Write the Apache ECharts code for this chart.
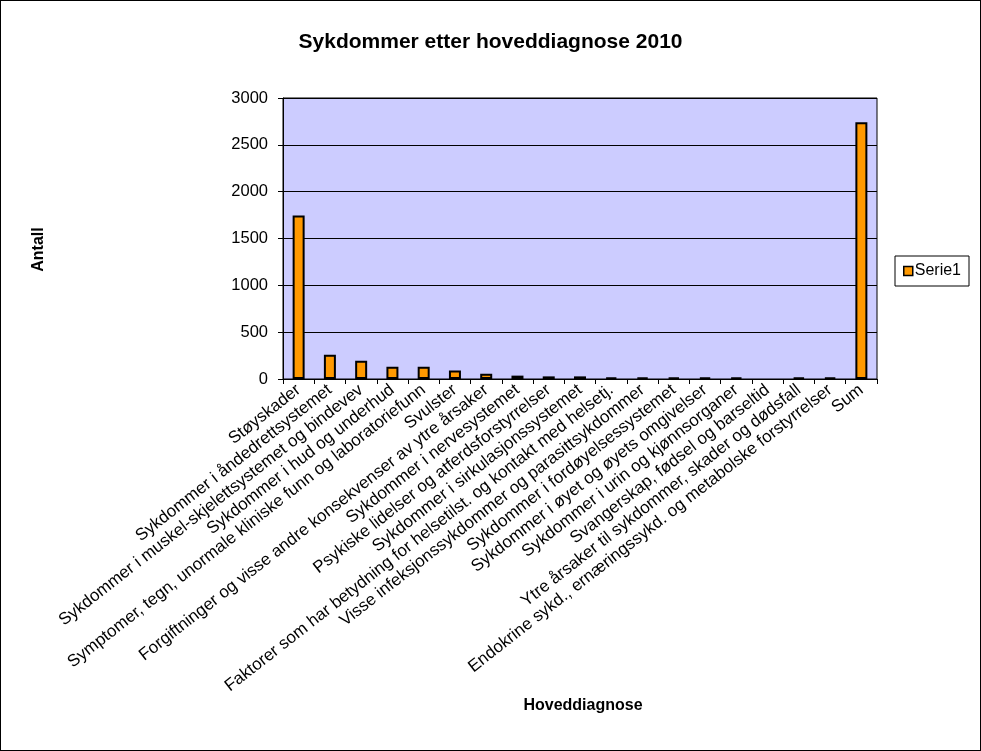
<!DOCTYPE html>
<html>
<head>
<meta charset="utf-8">
<script src="https://cdn.jsdelivr.net/npm/echarts@6/dist/echarts.min.js"></script>
<style>
    html, body { margin: 0; padding: 0; background: #fff; }
    #chart {
        width: 981px;
        height: 751px;
        box-sizing: border-box;
        border: 1px solid #000;
    }
</style>
</head>
<body>
<div id="chart"></div>
<script>
    const categories = [
        'Støyskader',
        'Sykdommer i åndedrettsystemet',
        'Sykdommer i muskel-skjelettsystemet og bindevev',
        'Sykdommer i hud og underhud',
        'Symptomer, tegn, unormale kliniske funn og laboratoriefunn',
        'Svulster',
        'Forgiftninger og visse andre konsekvenser av ytre årsaker',
        'Sykdommer i nervesystemet',
        'Psykiske lidelser og atferdsforstyrrelser',
        'Sykdommer i sirkulasjonssystemet',
        'Faktorer som har betydning for helsetilst. og kontakt med helsetj.',
        'Visse infeksjonssykdommer og parasittsykdommer',
        'Sykdommer i fordøyelsessystemet',
        'Sykdommer i øyet og øyets omgivelser',
        'Sykdommer i urin og kjønnsorganer',
        'Svangerskap, fødsel og barseltid',
        'Ytre årsaker til sykdommer, skader og dødsfall',
        'Endokrine sykd., ernæringssykd. og metabolske forstyrrelser',
        'Sum'
    ];
    const serie1 = [1745, 258, 195, 130, 130, 90, 57, 36, 28, 28, 18, 17, 17, 17, 17, null, 16, 16, 2740];
    const yTicks = { min: 0, max: 3000, interval: 500 };

    const font = 'Arial, "Liberation Sans", sans-serif';
    const chart = echarts.init(document.getElementById('chart'));

    chart.setOption({
        animation: false,
        title: {
            text: 'Sykdommer etter hoveddiagnose 2010',
            left: 'center',
            top: 26,
            textStyle: { fontFamily: font, fontSize: 21, fontWeight: 'bold', color: '#000' }
        },
        grid: {
            left: 282,
            right: 103,
            top: 97,
            bottom: 371,
            containLabel: false,
            show: true,
            backgroundColor: '#CCCCFF',
            borderColor: '#000',
            borderWidth: 1
        },
        legend: {
            data: ['Serie1'],
            right: 11,
            top: 255,
            orient: 'vertical',
            padding: [7, 8, 7, 8],
            borderColor: '#000',
            borderWidth: 1,
            itemWidth: 9,
            itemHeight: 9,
            itemGap: 0,
            icon: 'rect',
            itemStyle: { borderColor: '#000', borderWidth: 1.5 },
            textStyle: { fontFamily: font, fontSize: 16, color: '#000', padding: [0, 0, 0, -3] }
        },
        xAxis: {
            type: 'category',
            data: categories,
            name: 'Hoveddiagnose',
            nameLocation: 'middle',
            nameGap: 317,
            nameTextStyle: { fontFamily: font, fontSize: 16, fontWeight: 'bold', color: '#000', padding: [0, 0, 0, 6] },
            axisLine: { lineStyle: { color: '#000', width: 1 } },
            axisTick: { show: true, alignWithLabel: false, length: 5, lineStyle: { color: '#000' } },
            axisLabel: {
                interval: 0,
                rotate: 38,
                margin: 9,
                fontFamily: font,
                fontSize: 17,
                color: '#000'
            }
        },
        yAxis: {
            type: 'value',
            min: yTicks.min,
            max: yTicks.max,
            interval: yTicks.interval,
            name: 'Antall',
            nameLocation: 'middle',
            nameRotate: 90,
            nameGap: 236,
            nameTextStyle: { fontFamily: font, fontSize: 16, fontWeight: 'bold', color: '#000', padding: [0, 22, 0, 0] },
            axisLine: { show: true, lineStyle: { color: '#000', width: 1 } },
            axisTick: { show: true, length: 5, lineStyle: { color: '#000' } },
            axisLabel: {
                margin: 15,
                fontFamily: font,
                fontSize: 16.5,
                color: '#000',
                formatter: (v) => String(v)
            },
            splitLine: { show: true, lineStyle: { color: '#000', width: 1 } }
        },
        series: [
            {
                name: 'Serie1',
                type: 'bar',
                data: serie1,
                barWidth: 12,
                itemStyle: {
                    color: '#FF9900',
                    borderColor: '#000',
                    borderWidth: 2
                }
            }
        ]
    });
</script>
</body>
</html>
